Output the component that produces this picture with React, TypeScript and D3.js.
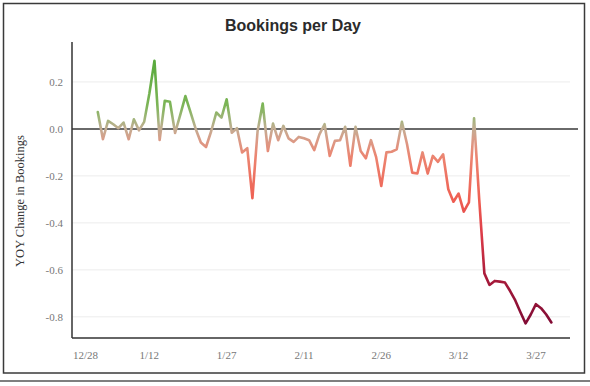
import React, { useEffect, useRef } from "react";
import * as d3 from "d3";

// daily YOY change, starting 1/2
const firstDay = new Date(2020, 0, 2);
const bookingsChange = [
  0.072, -0.044, 0.034, 0.02, 0.003, 0.027, -0.044, 0.041, -0.006, 0.03,
  0.15, 0.29, -0.047, 0.12, 0.116, -0.017, 0.06, 0.14, 0.07, 0.0,
  -0.058, -0.077, -0.01, 0.07, 0.048, 0.126, -0.016, 0.003, -0.1, -0.082,
  -0.295, -0.01, 0.108, -0.094, 0.023, -0.048, 0.013, -0.04, -0.055, -0.034,
  -0.04, -0.048, -0.09, -0.023, 0.02, -0.115, -0.051, -0.048, 0.009, -0.157,
  0.009, -0.094, -0.125, -0.048, -0.12, -0.243, -0.1, -0.097, -0.087, 0.03,
  -0.065, -0.186, -0.19, -0.1, -0.19, -0.115, -0.14, -0.108, -0.257, -0.31,
  -0.275, -0.352, -0.313, 0.045, -0.3, -0.615, -0.664, -0.647, -0.65, -0.654,
  -0.69, -0.73, -0.78, -0.828, -0.79, -0.746, -0.763, -0.79, -0.824,
];
const yTicks = [0.2, 0.0, -0.2, -0.4, -0.6, -0.8];
const xTickLabels = ["12/28", "1/12", "1/27", "2/11", "2/26", "3/12", "3/27"];

// colour by value (green above zero -> red -> dark crimson)
const colorStops = [
  { v: 0.29, c: "#58aa3c" },
  { v: 0.1, c: "#7db557" },
  { v: 0.04, c: "#a3b47c" },
  { v: 0.0, c: "#c4ad93" },
  { v: -0.05, c: "#db9a86" },
  { v: -0.12, c: "#ec8470" },
  { v: -0.3, c: "#ef5f52" },
  { v: -0.45, c: "#dc3b48" },
  { v: -0.62, c: "#ab1c3b" },
  { v: -0.82, c: "#830c35" },
];

const width = 590;
const height = 386;

const App = () => {
  const svgRef = useRef(null);

  useEffect(() => {
    const svg = d3.select(svgRef.current);
    svg.selectAll("*").remove();

    const data = bookingsChange.map((v, i) => ({ date: d3.timeDay.offset(firstDay, i), v }));
    const tickDates = xTickLabels.map((s) => {
      const [m, d] = s.split("/").map(Number);
      return new Date(m === 12 ? 2019 : 2020, m - 1, d);
    });

    const x = d3.scaleTime()
      .domain([new Date(2019, 11, 28), new Date(2020, 3, 3)])
      .range([72, 572]);
    const y = d3.scaleLinear()
      .domain([-0.89, 0.37])
      .range([338, 42]);

    // frame
    svg.append("rect")
      .attr("x", 3.5).attr("y", 3.5).attr("width", 581).attr("height", 369.5)
      .attr("fill", "#fff").attr("stroke", "#3a3a3a").attr("stroke-width", 1.5);
    svg.append("line")
      .attr("x1", 0).attr("x2", width).attr("y1", 381).attr("y2", 381)
      .attr("stroke", "#555").attr("stroke-width", 1.5);

    svg.append("text")
      .attr("x", 293).attr("y", 31)
      .attr("text-anchor", "middle")
      .style("font-family", "'Liberation Sans', Arial, sans-serif")
      .style("font-weight", "bold")
      .style("font-size", "16px")
      .attr("fill", "#2b2b2b")
      .text("Bookings per Day");

    // grid
    svg.append("g").selectAll("line")
      .data(yTicks.filter((t) => t !== 0))
      .join("line")
      .attr("x1", 72).attr("x2", 570)
      .attr("y1", (d) => y(d)).attr("y2", (d) => y(d))
      .attr("stroke", "#ececec").attr("stroke-width", 1);

    svg.append("line")
      .attr("x1", 72).attr("x2", 578)
      .attr("y1", y(0)).attr("y2", y(0))
      .attr("stroke", "#6a6a6a").attr("stroke-width", 2);

    // y labels
    svg.append("g").selectAll("text")
      .data(yTicks)
      .join("text")
      .attr("x", 63).attr("y", (d) => y(d)).attr("dy", "0.35em")
      .attr("text-anchor", "end")
      .style("font-family", "'Liberation Serif', 'Times New Roman', serif")
      .style("font-size", "11px")
      .attr("fill", "#777")
      .text((d) => d.toFixed(1));

    svg.append("text")
      .attr("transform", "translate(24,201) rotate(-90)")
      .attr("text-anchor", "middle")
      .style("font-family", "'Liberation Serif', 'Times New Roman', serif")
      .style("font-size", "12.5px")
      .attr("fill", "#333")
      .text("YOY Change in Bookings");

    // x labels
    svg.append("g").selectAll("text")
      .data(tickDates)
      .join("text")
      .attr("x", (d, i) => (i === 0 ? x(d) + 1 : x(d)))
      .attr("y", 359)
      .attr("text-anchor", (d, i) => (i === 0 ? "start" : "middle"))
      .style("font-family", "'Liberation Serif', 'Times New Roman', serif")
      .style("font-size", "11px")
      .attr("fill", "#777")
      .text((d, i) => xTickLabels[i]);

    // axes lines
    svg.append("line")
      .attr("x1", 72).attr("x2", 72).attr("y1", 42).attr("y2", 338)
      .attr("stroke", "#333").attr("stroke-width", 1.5);
    svg.append("line")
      .attr("x1", 72).attr("x2", 570).attr("y1", 338).attr("y2", 338)
      .attr("stroke", "#333").attr("stroke-width", 1.5);

    // gradient along y
    const grad = svg.append("defs").append("linearGradient")
      .attr("id", "bookGrad")
      .attr("gradientUnits", "userSpaceOnUse")
      .attr("x1", 0).attr("x2", 0)
      .attr("y1", y(colorStops[0].v))
      .attr("y2", y(colorStops[colorStops.length - 1].v));
    const top = y(colorStops[0].v);
    const span = y(colorStops[colorStops.length - 1].v) - top;
    grad.selectAll("stop")
      .data(colorStops)
      .join("stop")
      .attr("offset", (d) => (y(d.v) - top) / span)
      .attr("stop-color", (d) => d.c);

    const line = d3.line()
      .x((d) => x(d.date))
      .y((d) => y(d.v));

    svg.append("path")
      .datum(data)
      .attr("d", line)
      .attr("fill", "none")
      .attr("stroke", "url(#bookGrad)")
      .attr("stroke-width", 2.6)
      .attr("stroke-linejoin", "round")
      .attr("stroke-linecap", "round");
  }, []);

  return (
    <svg ref={svgRef} width={width} height={height}
      style={{ position: "absolute", left: 0, top: 0, background: "#fff" }} />
  );
};

export default App;
